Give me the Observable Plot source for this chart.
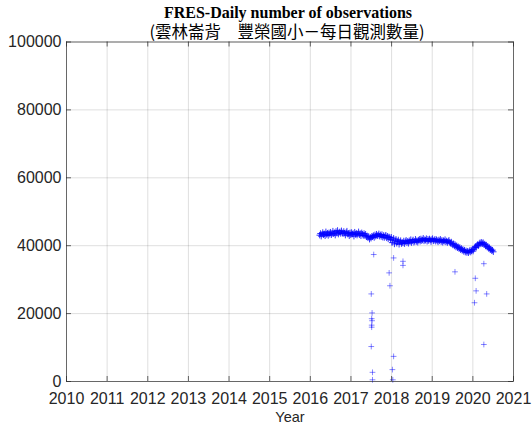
<!DOCTYPE html>
<html><head><meta charset="utf-8">
<script src="https://cdn.jsdelivr.net/npm/d3@7"></script>
<script src="https://cdn.jsdelivr.net/npm/@observablehq/plot@0.6"></script>
<style>body{margin:0;background:#fff}</style>
</head><body><div id="chart"></div>
<script>
const title = "FRES-Daily number of observations";
const subtitle = "(雲林崙背　豐榮國小－每日觀測數量)";
const xLabel = "Year";
const yearTicks = [2010,2011,2012,2013,2014,2015,2016,2017,2018,2019,2020,2021];
const valueTicks = [0,20000,40000,60000,80000,100000];

// weekly samples of the daily count, starting 2016.23
const bandStart = 2016.23;
const bandStepDays = 7;
const bandValues = [
43100,43600,42800,43400,43900,43200,43500,42900,44100,43300,43700,43000,43800,43400,
44000,43200,43600,44300,43500,43800,43100,44200,43700,44500,43400,43900,44100,43600,44400,43800,
43500,44200,43700,43100,43900,44300,43400,43600,42900,43800,
43200,43900,43400,43600,42800,44000,43300,43700,43100,43500,44100,43200,43600,42900,43800,43400,43000,43600,
43000,43400,42600,42900,42300,42700,41900,42500,42200,42800,
42600,43000,42400,43200,42800,43400,42900,43100,43500,42800,
43200,42700,43300,42500,43000,42400,42900,43100,42300,42800,42000,42600,42400,
41800,42500,40900,41600,42200,40500,41400,41900,40700,41200,41700,40400,41100,41500,40600,41000,
40800,41400,40600,41200,41600,40900,41300,40700,41500,41100,41800,40900,41400,41700,41000,41300,41900,41200,41500,41000,41600,
41900,41300,42000,41500,41700,42200,41400,41800,41600,42100,41300,41900,41500,42000,41700,41200,41800,42100,41400,41600,41900,
41300,41800,41500,41100,41700,41400,41900,41200,41600,41000,41500,41300,41800,41100,41400,40900,41300,41600,
41000,40700,41100,40500,40200,40600,39900,40300,39600,40000,39400,39700,39100,39500,38800,39200,38600,38900,38300,38700,38100,38500,38000,
38400,37900,38300,38700,38100,38500,38900,38400,
39000,39400,39800,39500,40100,40400,40000,40600,40900,40500,41000,
40600,40900,40300,40500,39900,40200,39600,39800,39200,39400,38800,39000,38500,38700,38200
];

// isolated low days
const outlierYears = [2017.56,2017.50,2017.52,2017.51,2017.52,2017.51,2017.51,2017.50,2017.53,2017.53,
  2018.05,2018.28,2018.28,2017.94,2017.96,2018.05,2018.02,2018.03,
  2019.56,2020.27,2020.06,2020.08,2020.34,2020.04,2020.27];
const outlierValues = [37400,25800,20200,18500,17900,16600,16000,10300,2700,500,
  36400,35400,34200,32000,28200,7400,3500,500,
  32300,34700,30400,26700,25800,23200,10900];

const band = bandValues.map((v, i) => ({year: bandStart + i * bandStepDays / 365.25, count: v}));
const outliers = outlierYears.map((y, i) => ({year: y, count: outlierValues[i]}));

const W = 532, H = 430, mL = 66, mR = 19, mT = 41.5, mB = 49;
const innerH = H - mT - mB, innerW = W - mL - mR;
const axisColor = "#262626";
const tickLen = 5;

const chart = Plot.plot({
  width: W, height: H,
  marginLeft: mL, marginRight: mR, marginTop: mT, marginBottom: mB,
  x: {domain: [2010, 2021]},
  y: {domain: [0, 100000]},
  style: {fontFamily: "'Liberation Sans', Arial, Helvetica, sans-serif", background: "#fff", color: axisColor},
  marks: [
    Plot.gridX(yearTicks, {stroke: axisColor, strokeOpacity: 0.15, strokeWidth: 1}),
    Plot.gridY(valueTicks, {stroke: axisColor, strokeOpacity: 0.15, strokeWidth: 1}),
    Plot.dot(band, {x: "year", y: "count", symbol: "plus", r: 2.2, stroke: "blue", strokeWidth: 0.8, fill: "none"}),
    Plot.dot(outliers, {x: "year", y: "count", symbol: "plus", r: 2.0, stroke: "blue", strokeWidth: 0.8, strokeOpacity: 0.6, fill: "none"}),
    // inward ticks on all four sides
    Plot.ruleX(yearTicks, {x: d => d, insetTop: innerH - tickLen, stroke: axisColor, strokeOpacity: 0.7}),
    Plot.ruleX(yearTicks, {x: d => d, insetBottom: innerH - tickLen, stroke: axisColor, strokeOpacity: 0.7}),
    Plot.ruleY(valueTicks, {y: d => d, insetRight: innerW - tickLen, stroke: axisColor, strokeOpacity: 0.7}),
    Plot.ruleY(valueTicks, {y: d => d, insetLeft: innerW - tickLen, stroke: axisColor, strokeOpacity: 0.7}),
    Plot.frame({stroke: axisColor, strokeOpacity: 0.65}),
    Plot.axisX(yearTicks, {tickSize: 0, tickPadding: 11, fontSize: 16, tickFormat: d => String(d), label: null, fill: axisColor}),
    Plot.axisY(valueTicks, {tickSize: 0, tickPadding: 5, fontSize: 16, tickFormat: d => String(d), label: null, fill: axisColor}),
    Plot.text([xLabel], {frameAnchor: "bottom", dy: 40, fontSize: 14.5, fill: axisColor}),
    Plot.text([title], {frameAnchor: "top", dx: -2, dy: -24.5, lineAnchor: "bottom", fontSize: 16, fontWeight: "bold", fontFamily: "'Liberation Serif', 'Times New Roman', serif", fill: "#000"}),
    Plot.text([subtitle], {frameAnchor: "top", dx: -3, dy: -4, lineAnchor: "bottom", fontSize: 16.5, fontFamily: "'Noto Sans CJK TC', sans-serif", fill: "#000"})
  ]
});
document.getElementById("chart").appendChild(chart);
</script>
</body></html>
